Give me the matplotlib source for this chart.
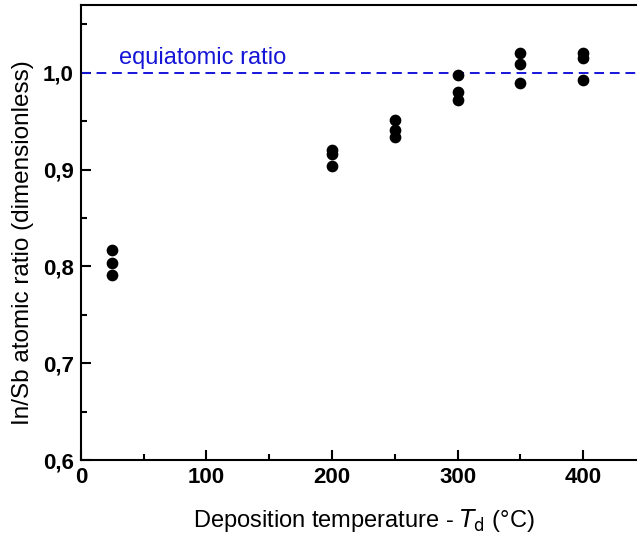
import matplotlib.pyplot as plt
from matplotlib.ticker import MultipleLocator, FuncFormatter

# In/Sb atomic ratio measured at each deposition temperature (three samples each)
temps = [25, 25, 25,
         200, 200, 200,
         250, 250, 250,
         300, 300, 300,
         350, 350, 350,
         400, 400, 400]
ratios = [0.817, 0.804, 0.791,
          0.920, 0.916, 0.904,
          0.951, 0.941, 0.934,
          0.998, 0.980, 0.972,
          1.020, 1.009, 0.989,
          1.020, 1.015, 0.993]

EQUI_RATIO = 1.0
LINE_COLOR = "#1515d8"

plt.rcParams['font.family'] = ['Liberation Sans', 'DejaVu Sans']

fig = plt.figure(figsize=(6.37, 5.4), dpi=100)
ax = fig.add_axes([0.127, 0.148, 0.887, 0.8426])

ax.scatter(temps, ratios, s=55, color="black", zorder=3)
ax.axhline(EQUI_RATIO, color=LINE_COLOR, linestyle=(0, (5, 3)), linewidth=1.4, zorder=2)
ax.text(30, 1.004, "equiatomic ratio", color=LINE_COLOR, fontsize=17, va="bottom", ha="left")

ax.set_xlim(0, 450)
ax.set_ylim(0.6, 1.07)
ax.xaxis.set_major_locator(MultipleLocator(100))
ax.xaxis.set_minor_locator(MultipleLocator(50))
ax.yaxis.set_major_locator(MultipleLocator(0.1))
ax.yaxis.set_minor_locator(MultipleLocator(0.05))
ax.yaxis.set_major_formatter(FuncFormatter(lambda v, p: f"{v:.1f}".replace(".", ",")))

ax.tick_params(which="both", direction="in", width=1.5, top=False, right=False)
ax.tick_params(which="major", length=7, labelsize=16, pad=5)
ax.tick_params(which="minor", length=4)
for lab in ax.get_xticklabels() + ax.get_yticklabels():
    lab.set_fontweight("bold")
for sp in ax.spines.values():
    sp.set_linewidth(1.5)

ax.set_xlabel(r"Deposition temperature - $\mathit{T}_{\mathrm{d}}$ (°C)", fontsize=17, labelpad=14)
ax.set_ylabel("In/Sb atomic ratio (dimensionless)", fontsize=17.5)
ax.yaxis.set_label_coords(-0.083, 0.478)

fig.savefig("out.png", dpi=100)
